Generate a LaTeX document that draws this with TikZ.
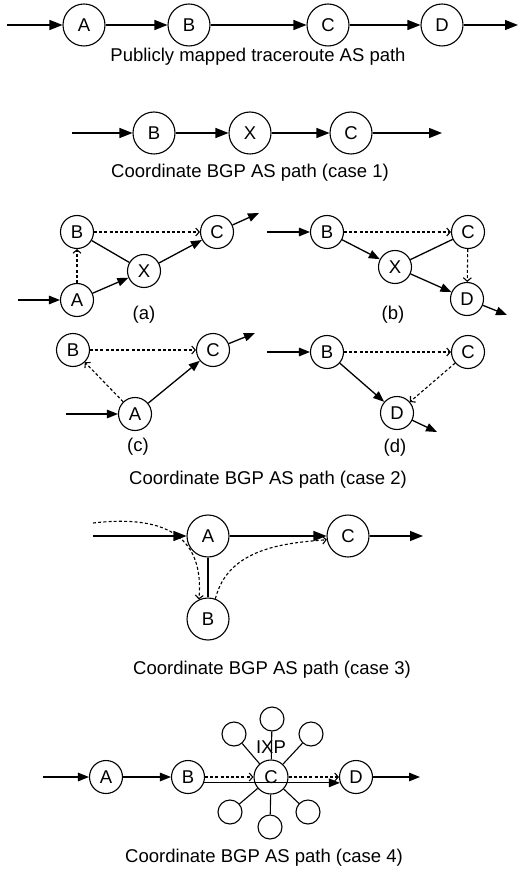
\documentclass[tikz,border=0pt]{standalone}
\usepackage{fontspec}
\setmainfont{Liberation Sans}
\usetikzlibrary{arrows.meta,calc}

\begin{document}
\begin{tikzpicture}[x=1pt, y=-1pt,
  as/.style={circle, draw, line width=1.1pt, inner sep=0pt, minimum size=42pt,
    font=\fontsize{18.5}{22}\selectfont},
  sm/.style={as, minimum size=33pt},
  sat/.style={circle, draw, line width=1.1pt, inner sep=0pt, minimum size=24pt},
  lbl/.style={font=\fontsize{18.5}{22}\selectfont, inner sep=0pt},
  arr/.style={-{Triangle[length=13pt, width=10pt]}, line width=1.3pt},
  sarr/.style={-{Triangle[length=11pt, width=8.5pt]}, line width=1.3pt},
  link/.style={line width=1.3pt},
  darr/.style={-{Straight Barb[length=3.5pt, width=8pt]}, dash pattern=on 3pt off 2.2pt, line width=1.1pt}
]
\useasboundingbox (0,0) rectangle (527,874);

% traceroute path
\coordinate (in1) at (7,25);
\node[as] (a1) at (84,25) {A};
\node[as] (b1) at (189,25) {B};
\node[as] (c1) at (328,25) {C};
\node[as] (d1) at (442,25) {D};
\coordinate (out1) at (518,25);
\draw[arr] (in1) -- (a1);
\draw[arr] (a1) -- (b1);
\draw[arr] (b1) -- (c1);
\draw[arr] (c1) -- (d1);
\draw[arr] (d1) -- (out1);
\node[lbl] (t1) at (258,57) {Publicly mapped traceroute AS path};

% case 1
\coordinate (in2) at (72,133);
\node[as] (b2) at (154,133) {B};
\node[as] (x2) at (250,133) {X};
\node[as] (c2) at (351,133) {C};
\coordinate (out2) at (442,133);
\draw[arr] (in2) -- (b2);
\draw[arr] (b2) -- (x2);
\draw[arr] (x2) -- (c2);
\draw[arr] (c2) -- (out2);
\node[lbl] (t2) at (250,173) {Coordinate BGP AS path (case 1)};

% case 2 (a)
\coordinate (ina) at (18,300);
\node[sm] (aB) at (77,232) {B};
\node[sm] (aC) at (217,232) {C};
\node[sm] (aX) at (144,271) {X};
\node[sm] (aA) at (77,300) {A};
\coordinate (outa) at (259,213);
\draw[sarr] (ina) -- (aA);
\draw[sarr] (aA) -- (aX);
\draw[sarr] (aX) -- (aC);
\draw[link] (aB) -- (aX);
\draw[sarr] (aC) -- (outa);
\draw[darr] (aA) -- (aB);
\draw[darr] (aB) -- (aC);
\node[lbl] (ta) at (144,315) {(a)};

% case 2 (b)
\coordinate (inb) at (267,232);
\node[sm] (bB) at (327,232) {B};
\node[sm] (bC) at (468,232) {C};
\node[sm] (bX) at (395,267) {X};
\node[sm] (bD) at (467,299) {D};
\coordinate (outb) at (507,315);
\draw[sarr] (inb) -- (bB);
\draw[sarr] (bB) -- (bX);
\draw[sarr] (bX) -- (bD);
\draw[link] (bX) -- (bC);
\draw[sarr] (bD) -- (outb);
\draw[darr] (bB) -- (bC);
\draw[darr] (bC) -- (bD);
\node[lbl] (tb) at (393,315) {(b)};

% case 2 (c)
\coordinate (inc) at (66,414);
\node[sm] (cB) at (73,350) {B};
\node[sm] (cC) at (213,350) {C};
\node[sm] (cA) at (135,414) {A};
\coordinate (outc) at (255,333);
\draw[sarr] (inc) -- (cA);
\draw[sarr] (cA) -- (cC);
\draw[sarr] (cC) -- (outc);
\draw[darr] (cA) -- (cB);
\draw[darr] (cB) -- (cC);
\node[lbl] (tc) at (138,447) {(c)};

% case 2 (d)
\coordinate (ind) at (267,352);
\node[sm] (dB) at (327,352) {B};
\node[sm] (dC) at (468,352) {C};
\node[sm] (dD) at (397,413) {D};
\coordinate (outd) at (437,432);
\draw[sarr] (ind) -- (dB);
\draw[sarr] (dB) -- (dD);
\draw[sarr] (dD) -- (outd);
\draw[darr] (dB) -- (dC);
\draw[darr] (dC) -- (dD);
\node[lbl] (td) at (395,448) {(d)};
\node[lbl] (t3) at (268,480) {Coordinate BGP AS path (case 2)};

% case 3
\coordinate (in3) at (93,536);
\coordinate (in3d) at (93,523);
\node[as] (a3) at (208,536) {A};
\node[as] (c3) at (348,536) {C};
\node[as] (b3) at (208,619) {B};
\coordinate (out3) at (423,536);
\draw[arr] (in3) -- (a3);
\draw[arr] (a3) -- (c3);
\draw[arr] (c3) -- (out3);
\draw[link] (a3) -- (b3);
\draw[darr] (in3d) .. controls (170,514) and (204,540) .. (b3.115);
\draw[darr] (b3.70) .. controls (228,548) and (285,543) .. (c3.190);
\node[lbl] (t4) at (272,670) {Coordinate BGP AS path (case 3)};

% case 4
\coordinate (in4) at (43,777);
\node[sm] (a4) at (106,777) {A};
\node[sm] (b4) at (188,777) {B};
\node[sm, minimum size=34pt] (c4) at (271,777) {C};
\node[sm] (d4) at (356,777) {D};
\coordinate (out4) at (420,777);
\node[sat] (s1) at (272,719) {};
\node[sat] (s2) at (234,734) {};
\node[sat] (s3) at (311,734) {};
\node[sat] (s4) at (230,812) {};
\node[sat] (s5) at (270,827) {};
\node[sat] (s6) at (308,812) {};
\draw[link, line width=1.1pt] (c4) -- (s1);
\draw[link, line width=1.1pt] (c4) -- (s2);
\draw[link, line width=1.1pt] (c4) -- (s3);
\draw[link, line width=1.1pt] (c4) -- (s4);
\draw[link, line width=1.1pt] (c4) -- (s5);
\draw[link, line width=1.1pt] (c4) -- (s6);
\node[lbl] (ixp) at (271,747) {IXP};
\draw[sarr] (in4) -- (a4);
\draw[sarr] (a4) -- (b4);
\draw[sarr] (b4.-20) -- (d4.200);
\draw[sarr] (d4) -- (out4);
\draw[darr] (b4) -- (c4);
\draw[darr] (c4) -- (d4);
\node[lbl] (t5) at (264,858) {Coordinate BGP AS path (case 4)};
\end{tikzpicture}
\end{document}
